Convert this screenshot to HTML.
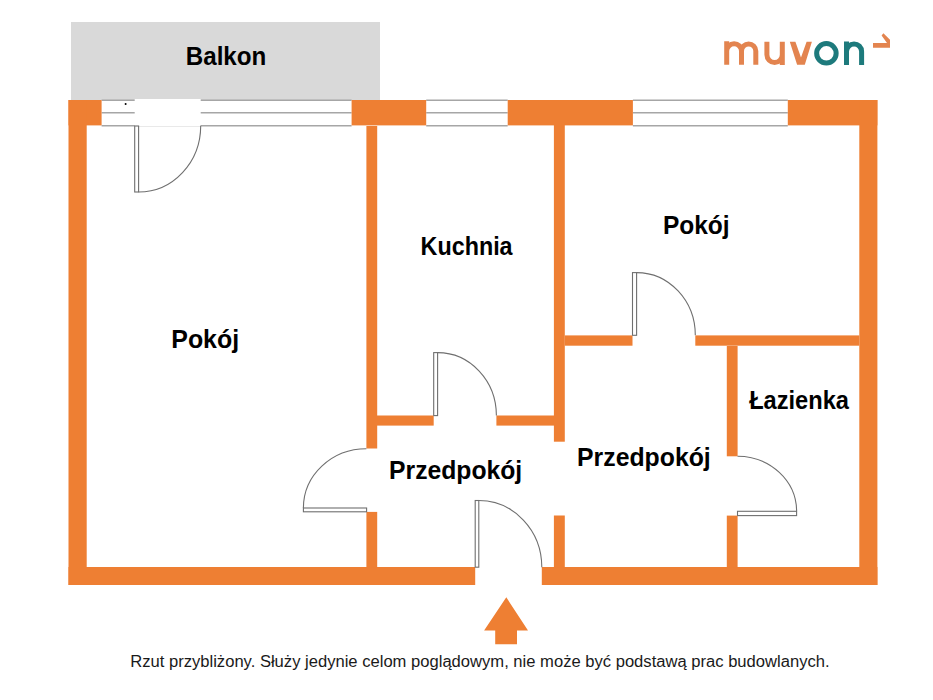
<!DOCTYPE html>
<html><head><meta charset="utf-8">
<style>
html,body{margin:0;padding:0;background:#fff;}
body{width:933px;height:700px;overflow:hidden;}
svg{display:block;}
text{font-family:"Liberation Sans",sans-serif;}
</style></head>
<body>
<svg width="933" height="700" viewBox="0 0 933 700">
<!-- balkon -->
<rect x="71" y="22" width="309" height="78" fill="#d9d9d9"/>


<!-- windows top -->
<g fill="none" stroke="#a6a6a6" stroke-width="1.6">
<path d="M101.6 100.2H351.6M101.6 112.8H351.6M101.6 125.8H351.6"/>
<path d="M426.2 100.2H507.7M426.2 112.8H507.7M426.2 125.8H507.7"/>
<path d="M632.9 100.2H787.8M632.9 112.8H787.8M632.9 125.8H787.8"/>
</g>
<!-- door gap in window -->
<rect x="134.7" y="99" width="66" height="27.5" fill="#ffffff"/>

<!-- walls -->
<g fill="#EE7F33">
<rect x="68.5" y="100" width="33.1" height="25.4"/>
<rect x="351.6" y="100" width="74.6" height="25.4"/>
<rect x="507.7" y="100" width="125.2" height="25.4"/>
<rect x="787.8" y="100" width="89.6" height="25.4"/>
<rect x="68.5" y="100" width="18.2" height="485"/>
<rect x="859.3" y="100" width="18.1" height="485"/>
<rect x="68.5" y="567" width="406.7" height="18"/>
<rect x="541.8" y="567" width="335.6" height="18"/>
<!-- wall A -->
<rect x="366.4" y="126" width="10.8" height="322.5"/>
<rect x="366.4" y="511.9" width="10.8" height="56"/>
<!-- kuchnia bottom -->
<rect x="377" y="415.5" width="56.7" height="10.1"/>
<rect x="496.4" y="415.5" width="58" height="10.1"/>
<!-- wall B -->
<rect x="553.9" y="125" width="10.9" height="316.7"/>
<rect x="553.9" y="515.5" width="10.9" height="52"/>
<!-- pokoj bottom -->
<rect x="564.8" y="335.4" width="67.7" height="10.3"/>
<rect x="695.3" y="335.4" width="164" height="10.3"/>
<!-- lazienka left -->
<rect x="726.8" y="346" width="10.8" height="110.3"/>
<rect x="726.8" y="515.6" width="10.8" height="52"/>
</g>

<!-- doors -->
<g fill="#fff" stroke="#6f6f6f" stroke-width="1.1">
<!-- top-left door -->
<rect x="134.7" y="126" width="3.9" height="66"/>
<path d="M138.6 192 A62.1 66.3 0 0 0 200.7 125.7" fill="none"/>
<!-- left room door -->
<rect x="303.4" y="508" width="63.2" height="3.8"/>
<path d="M303.4 508 A63 59.2 0 0 1 366.4 448.8" fill="none"/>
<!-- kuchnia door -->
<rect x="433.7" y="352.6" width="3.9" height="63"/>
<path d="M437.6 352.6 A58.8 63 0 0 1 496.4 415.6" fill="none"/>
<!-- entrance -->
<rect x="475.2" y="500.5" width="3.6" height="66.7"/>
<path d="M478.8 500.5 A63 66.7 0 0 1 541.8 567.2" fill="none"/>
<!-- pokoj right door -->
<rect x="632.5" y="272.6" width="4.1" height="62.7"/>
<path d="M636.6 272.6 A58.7 62.7 0 0 1 695.3 335.3" fill="none"/>
<!-- lazienka door -->
<rect x="737.5" y="511.3" width="59.1" height="4.3"/>
<path d="M737.5 456.3 A59.1 55 0 0 1 796.6 511.3" fill="none"/>
</g>
<circle cx="125.6" cy="104" r="1" fill="#000"/>

<!-- labels -->
<g font-size="25" font-weight="bold" fill="#000">
<text id="Balkon" x="185.72" y="64.7" textLength="80.63" lengthAdjust="spacingAndGlyphs">Balkon</text>
<text id="Kuchnia" x="420.60" y="254.7" textLength="92.00" lengthAdjust="spacingAndGlyphs">Kuchnia</text>
<text id="PokojR" x="662.89" y="233.5" textLength="66.75" lengthAdjust="spacingAndGlyphs">Pokój</text>
<text id="PokojL" x="171.25" y="347.7" textLength="67.88" lengthAdjust="spacingAndGlyphs">Pokój</text>
<text id="PrzedL" x="389.11" y="479.1" textLength="133.13" lengthAdjust="spacingAndGlyphs">Przedpokój</text>
<text id="PrzedR" x="577.09" y="465.5" textLength="133.63" lengthAdjust="spacingAndGlyphs">Przedpokój</text>
<text id="Laz" x="749.14" y="408.7" textLength="99.85" lengthAdjust="spacingAndGlyphs">Łazienka</text>
</g>

<!-- arrow -->
<path d="M506.3 597.3 L528 630.5 L517 630.5 L517 644.2 L495.2 644.2 L495.2 630.5 L484.1 630.5 Z" fill="#EE7F33"/>

<!-- caption -->
<text id="caption" x="130.24" y="666.5" font-size="16" fill="#1a1a1a" textLength="699.32" lengthAdjust="spacingAndGlyphs">Rzut przybliżony. Służy jedynie celom poglądowym, nie może być podstawą prac budowlanych.</text>

<!-- logo -->
<g fill="none" stroke-width="5" stroke-linecap="butt">
<path stroke="#E3844F" d="M726.7 64.8V41.2M726.7 51.1A7.4 7.4 0 0 1 741.5 51.1V64.8M741.5 51.1A7.15 7.15 0 0 1 755.8 51.1V64.8"/>
<path stroke="#E3844F" d="M766.9 41.7V54.8A7.7 7.7 0 0 0 782.3 54.8M782.3 41.7V65"/>
<circle stroke="#1D7A7C" cx="826.4" cy="53.3" r="9.75"/>
<path stroke="#1D7A7C" d="M846.5 65V41.4M846.5 51.45A7.55 7.55 0 0 1 861.6 51.45V65"/>
</g>
<path fill="#E3844F" d="M789.8 41.7H795.4L801 57.6L806.6 41.7H811.9L804.8 64.7H797.1Z"/>
<path fill="#E3844F" d="M873 43H887L881.6 35.6L883.4 33.2L890 39.8V47.8H873Z"/>
</svg>
</body></html>
